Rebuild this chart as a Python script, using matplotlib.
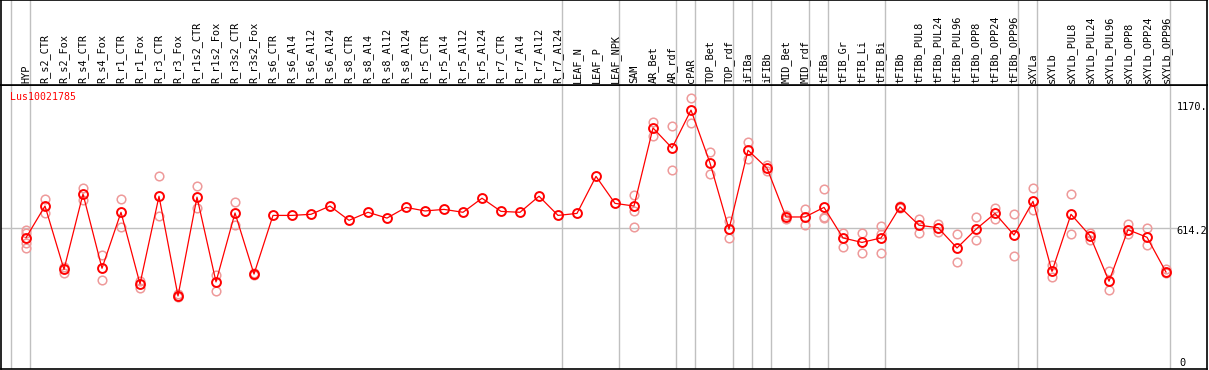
import matplotlib
matplotlib.use("Agg")
import matplotlib.pyplot as plt
from matplotlib.transforms import offset_copy

categories = [
    "HYP", "R_s2_CTR", "R_s2_Fox", "R_s4_CTR", "R_s4_Fox", "R_r1_CTR", "R_r1_Fox",
    "R_r3_CTR", "R_r3_Fox", "R_r1s2_CTR", "R_r1s2_Fox", "R_r3s2_CTR", "R_r3s2_Fox",
    "R_s6_CTR", "R_s6_Al4", "R_s6_Al12", "R_s6_Al24", "R_s8_CTR", "R_s8_Al4",
    "R_s8_Al12", "R_s8_Al24", "R_r5_CTR", "R_r5_Al4", "R_r5_Al12", "R_r5_Al24",
    "R_r7_CTR", "R_r7_Al4", "R_r7_Al12", "R_r7_Al24", "LEAF_N", "LEAF_P", "LEAF_NPK",
    "SAM", "AR_Bet", "AR_rdf", "cPAR", "TOP_Bet", "TOP_rdf", "iFIBa", "iFIBb",
    "MID_Bet", "MID_rdf", "tFIBa", "tFIB_Gr", "tFIB_Li", "tFIB_Bi", "tFIBb",
    "tFIBb_PUL8", "tFIBb_PUL24", "tFIBb_PUL96", "tFIBb_OPP8", "tFIBb_OPP24",
    "tFIBb_OPP96", "sXYLa", "sXYLb", "sXYLb_PUL8", "sXYLb_PUL24", "sXYLb_PUL96",
    "sXYLb_OPP8", "sXYLb_OPP24", "sXYLb_OPP96",
]

means = [
    572, 714, 430, 768, 435, 686, 365, 758, 311, 754, 374, 683, 409,
    672, 672, 677, 714, 650, 686, 660, 708, 692, 699, 686, 749,
    690, 686, 758, 672, 681, 847, 726,
    714, 1064, 974, 1144, 907, 610, 964, 884, 665, 665,
    708, 571, 551, 571, 710, 628, 617, 526, 610, 681, 584,
    735, 421, 677, 581, 377, 608, 574, 418,
]

replicates = [
    [606, 592, 548, 527], [744, 684], [442, 415], [795, 741], [493, 381],
    [744, 621], [377, 347], [847, 668], [320, 305], [802, 704], [406, 335],
    [731, 629], [415, 404],
    [], [], [], [], [], [], [], [], [], [], [], [], [], [], [], [], [], [], [],
    [762, 693, 621], [1092, 1028], [1074, 874], [1197, 1085], [955, 856],
    [648, 572], [1000, 926], [899, 870], [672, 657], [701, 630],
    [789, 666, 660], [592, 532], [592, 502], [623, 589, 502], [714, 704],
    [656, 595], [632, 599], [587, 462], [664, 560], [705, 657], [677, 489],
    [793, 696], [451, 395], [767, 587], [592, 562], [421, 336], [633, 589],
    [616, 538], [430, 412],
]

group_ends = [-1, 0, 28, 31, 34, 35, 37, 38, 39, 41, 42, 45, 52, 53, 60]
title = "Lus10021785"
ref_value = 614.2
tick_values = [1170.0, 614.2, 0]
tick_labels = ["1170.", "614.2", "0"]

W, H = 1209, 370
fig = plt.figure(figsize=(W / 100, H / 100), dpi=100)

def fx(px):
    return px / W

def fy(py):
    return 1 - py / H

xlim = ((1 - 26) / 19, (1207 - 26) / 19)
ylim = (-16.4, 1256.5)

ax = fig.add_axes([fx(1), fy(369), fx(1207) - fx(1), fy(85) - fy(369)])
axl = fig.add_axes([fx(1), fy(85), fx(1207) - fx(1), fy(0) - fy(85)])

for a in (ax, axl):
    a.set_xlim(*xlim)
    a.set_xticks([])
    a.set_yticks([])
    for s in a.spines.values():
        s.set_color("black")
        s.set_linewidth(1.2)
    for g in group_ends:
        a.axvline(g + 0.22, color="#c0c0c0", lw=1.0, zorder=0)
axl.set_ylim(0, 1)
ax.set_ylim(*ylim)

ax.plot([xlim[0], 60.6], [ref_value, ref_value], color="#c0c0c0", lw=1.0, zorder=0)

xs = list(range(len(categories)))
for i, reps in enumerate(replicates):
    if reps:
        ax.plot([i] * len(reps), reps, linestyle="none", marker="o", markersize=6.2,
                fillstyle="none", markeredgecolor="#ee9a9a", markeredgewidth=1.1, zorder=2)

ax.plot(xs, means, color="red", lw=0.9, zorder=3)
ax.plot(xs, means, linestyle="none", marker="o", markersize=6.4, fillstyle="none",
        markeredgecolor="red", markeredgewidth=1.4, zorder=4)

for i, c in enumerate(categories):
    axl.text(i, 0.02, c, rotation=90, ha="center", va="bottom",
             family="DejaVu Sans Mono", fontsize=7.4, color="black")

fig.text(fx(10), fy(97.5), title, color="red", family="DejaVu Sans Mono",
         fontsize=7.1, ha="left", va="center")

tr_down = offset_copy(ax.transData, fig=fig, x=0, y=-2.7 * 72 / 100, units="points")
tr_up = offset_copy(ax.transData, fig=fig, x=2.5 * 72 / 100, y=2.6 * 72 / 100, units="points")
for v, lab in zip(tick_values, tick_labels):
    t = tr_up if v == 0 else tr_down
    ax.text(60.55, v, lab, transform=t, ha="left", va="center",
            family="DejaVu Sans Mono", fontsize=7.4, color="black")

fig.savefig("out.png", dpi=100)
